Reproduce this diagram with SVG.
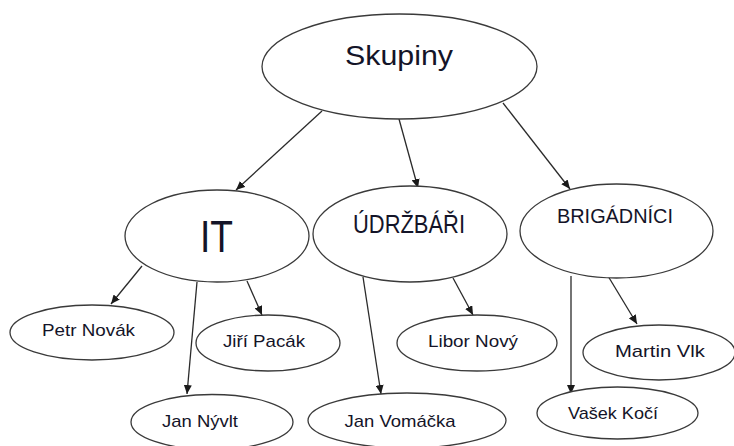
<svg xmlns="http://www.w3.org/2000/svg" width="734" height="446" viewBox="0 0 734 446">
<style>
.n ellipse{fill:#fff;stroke:#3a3a3a;stroke-width:1.3}
text{font-family:"Liberation Sans",Arial,sans-serif;fill:#141428;text-anchor:middle}
.s{font-size:17px}
.c line{stroke:#2a2a2a;stroke-width:1.3;marker-end:url(#ah)}
</style>
<defs>
<marker id="ah" markerUnits="userSpaceOnUse" markerWidth="10" markerHeight="8" refX="9" refY="4" orient="auto">
<path d="M0,0 L9,4 L0,8 Z" fill="#1a1a1a"/>
</marker>
</defs>
<rect width="734" height="446" fill="#fff"/>
<g class="c" id="connectors">
<line x1="322" y1="111" x2="236" y2="190"/>
<line x1="399" y1="119" x2="418" y2="188"/>
<line x1="503" y1="103" x2="570" y2="189"/>
<line x1="142" y1="266" x2="111" y2="304"/>
<line x1="197" y1="282" x2="187" y2="394"/>
<line x1="247" y1="281" x2="262" y2="315"/>
<line x1="363" y1="277" x2="381" y2="394"/>
<line x1="453" y1="278" x2="473" y2="315"/>
<line x1="571" y1="276" x2="571" y2="394"/>
<line x1="608" y1="276" x2="637" y2="324"/>
</g>
<g class="n" id="skupiny"><ellipse cx="399.5" cy="66.5" rx="137.5" ry="52.5"/><text x="399" y="65" font-size="28" textLength="108" lengthAdjust="spacingAndGlyphs">Skupiny</text></g>
<g class="n" id="it"><ellipse cx="217" cy="236" rx="92" ry="46"/><text x="216.5" y="252" font-size="44" textLength="33" lengthAdjust="spacingAndGlyphs">IT</text></g>
<g class="n" id="udrzbari"><ellipse cx="410" cy="234" rx="97" ry="48"/><text x="409" y="233" font-size="25" textLength="112" lengthAdjust="spacingAndGlyphs">ÚDRŽBÁŘI</text></g>
<g class="n" id="brigadnici"><ellipse cx="616.5" cy="231" rx="96.5" ry="47"/><text x="615" y="223" font-size="21" textLength="116" lengthAdjust="spacingAndGlyphs">BRIGÁDNÍCI</text></g>
<g class="n" id="petr"><ellipse cx="92" cy="332.5" rx="82" ry="27.5"/><text class="s" x="88.5" y="336" textLength="93" lengthAdjust="spacingAndGlyphs">Petr Novák</text></g>
<g class="n" id="jiri"><ellipse cx="268" cy="343" rx="72" ry="28"/><text class="s" x="264" y="347" textLength="82" lengthAdjust="spacingAndGlyphs">Jiří Pacák</text></g>
<g class="n" id="nyvlt"><ellipse cx="212" cy="422" rx="81" ry="27.5"/><text class="s" x="200" y="427" textLength="76" lengthAdjust="spacingAndGlyphs">Jan Nývlt</text></g>
<g class="n" id="libor"><ellipse cx="477" cy="343" rx="80" ry="28"/><text class="s" x="473" y="347" textLength="90" lengthAdjust="spacingAndGlyphs">Libor Nový</text></g>
<g class="n" id="vomacka"><ellipse cx="407" cy="420.5" rx="99" ry="27.5"/><text class="s" x="400" y="427" textLength="111" lengthAdjust="spacingAndGlyphs">Jan Vomáčka</text></g>
<g class="n" id="martin"><ellipse cx="659" cy="352.5" rx="76" ry="27.5"/><text class="s" x="660" y="357" textLength="90" lengthAdjust="spacingAndGlyphs">Martin Vlk</text></g>
<g class="n" id="vasek"><ellipse cx="617.5" cy="413" rx="80.5" ry="26"/><text class="s" x="613" y="419" textLength="90" lengthAdjust="spacingAndGlyphs">Vašek Kočí</text></g>
</svg>
